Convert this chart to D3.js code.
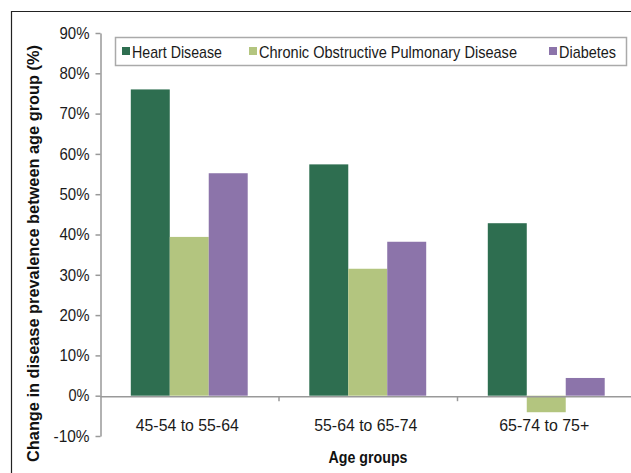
<!DOCTYPE html>
<html>
<head>
<meta charset="utf-8">
<script src="https://cdn.jsdelivr.net/npm/d3@7"></script>
<style>
  html, body { margin: 0; padding: 0; background: #fff; }
  svg { display: block; font-family: 'Liberation Sans', Arial, sans-serif; }
</style>
</head>
<body>
<svg id="chart" width="631" height="473"></svg>
<script>
const categories = ["45-54 to 55-64", "55-64 to 65-74", "65-74 to 75+"];
const seriesNames = ["Heart Disease", "Chronic Obstructive Pulmonary Disease", "Diabetes"];
const heartDisease = [76.0, 57.4, 42.8];
const copd = [39.4, 31.5, -4.1];
const diabetes = [55.2, 38.2, 4.4];
const colors = ["#2e6e50", "#b3c57f", "#8c74aa"];
const yTicks = [-10, 0, 10, 20, 30, 40, 50, 60, 70, 80, 90];

const seriesValues = [heartDisease, copd, diabetes];
const svg = d3.select("#chart");

// outer frame
svg.append("path").attr("d", "M11.5,480 V11.5 H640").attr("fill", "none").attr("stroke", "#222").attr("stroke-width", 1.2);

const plotLeft = 100, plotRight = 635.5, plotTop = 33, plotBottom = 436;
const y = d3.scaleLinear().domain([-10, 90]).range([plotBottom, plotTop]);
const x0 = d3.scaleBand().domain(categories).range([plotLeft, plotRight]).paddingInner(0.345).paddingOuter(0.1725);
const x1 = d3.scaleBand().domain(seriesNames).range([0, x0.bandwidth()]);

// y axis
const yAxis = d3.axisLeft(y).tickValues(yTicks).tickSize(5).tickSizeOuter(0).tickFormat(d => d + "%");
const gy = svg.append("g").attr("transform", `translate(${plotLeft + 0.5},0)`).call(yAxis);
gy.attr("font-family", null);
gy.select(".domain").attr("stroke", "#999").attr("stroke-width", 1.5);
gy.selectAll(".tick line").attr("stroke", "#999").attr("stroke-width", 1.5);
gy.selectAll(".tick text").attr("font-size", 16.5).attr("fill", "#1a1a1a").attr("x", -11)
  .attr("textLength", d => d < 0 ? 36 : (d === 0 ? 21 : 30)).attr("lengthAdjust", "spacingAndGlyphs");

// bars
const groups = svg.append("g").selectAll("g").data(categories).join("g")
  .attr("transform", d => `translate(${x0(d)},0)`);
groups.selectAll("rect").data((c, i) => seriesNames.map((s, j) => ({ s, v: seriesValues[j][i], j })))
  .join("rect")
  .attr("x", d => x1(d.s))
  .attr("width", x1.bandwidth())
  .attr("y", d => y(Math.max(0, d.v)))
  .attr("height", d => Math.abs(y(d.v) - y(0)))
  .attr("fill", d => colors[d.j]);

// x axis at 0
const xAxis = d3.axisBottom(d3.scaleLinear().domain([0, 3]).range([plotLeft, plotRight])).tickValues([1, 2, 3]).tickSize(5).tickSizeOuter(0).tickFormat("");
const gx = svg.append("g").attr("transform", `translate(0,${y(0) + 0.5})`).call(xAxis);
gx.select(".domain").attr("stroke", "#999").attr("stroke-width", 1.5);
gx.selectAll(".tick line").attr("stroke", "#999").attr("stroke-width", 1.5);

// category labels
svg.append("g").selectAll("text").data(categories).join("text")
  .attr("x", d => x0(d) + x0.bandwidth() / 2 - 2)
  .attr("y", 430.5)
  .attr("text-anchor", "middle")
  .attr("font-size", 17)
  .attr("fill", "#1a1a1a")
  .attr("textLength", (d, i) => i === 2 ? 90 : 103)
  .attr("lengthAdjust", "spacingAndGlyphs")
  .text(d => d);

// axis titles
svg.append("text").attr("x", 368).attr("y", 463).attr("text-anchor", "middle")
  .attr("font-size", 17).attr("font-weight", "bold").attr("fill", "#111")
  .attr("textLength", 79).attr("lengthAdjust", "spacingAndGlyphs").text("Age groups");
svg.append("text").attr("transform", "translate(38.5,253.5) rotate(-90)").attr("text-anchor", "middle")
  .attr("font-size", 17).attr("font-weight", "bold").attr("fill", "#111")
  .attr("textLength", 417).attr("lengthAdjust", "spacingAndGlyphs")
  .text("Change in disease prevalence between age group (%)");

// legend
const lg = svg.append("g");
lg.append("rect").attr("x", 115.5).attr("y", 37.5).attr("width", 511).attr("height", 28)
  .attr("fill", "#fff").attr("stroke", "#aaa").attr("stroke-width", 1.5);
const legendX = [122, 249, 549];
const legendW = [90, 258, 57];
seriesNames.forEach((s, i) => {
  lg.append("rect").attr("x", legendX[i]).attr("y", 47).attr("width", 8).attr("height", 8).attr("fill", colors[i]);
  lg.append("text").attr("x", legendX[i] + 10).attr("y", 57.5).attr("font-size", 17).attr("fill", "#1a1a1a")
    .attr("textLength", legendW[i]).attr("lengthAdjust", "spacingAndGlyphs").text(s);
});
</script>
</body>
</html>
